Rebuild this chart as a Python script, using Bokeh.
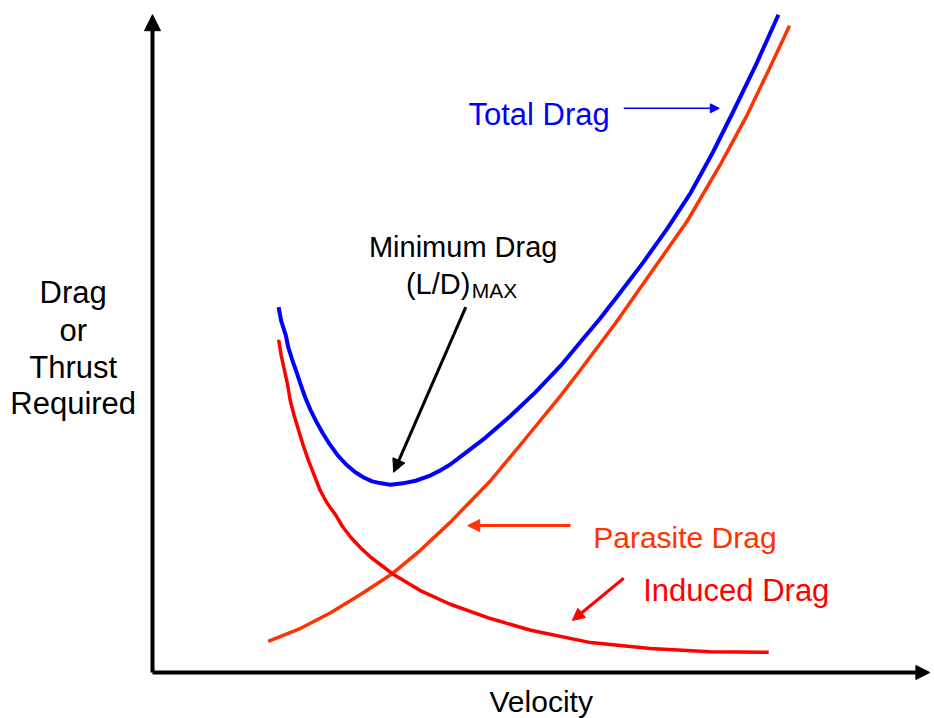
from bokeh.plotting import figure
from bokeh.models import ColumnDataSource, Arrow, NormalHead, Range1d
from bokeh.core.properties import value
from bokeh.embed import file_html
from bokeh.resources import INLINE

# ---- data (velocity units, drag units) ----
total_v = [19.4, 19.8, 20.5, 20.9, 21.5, 22.2, 22.8, 23.5, 24.3, 25.2, 26.2, 27.2, 28.5, 29.8,
           31.2, 32.5, 33.8, 35.2, 36.6, 38.5, 40.5, 42.5, 44.3, 45.8, 47.4, 51.2, 55.1, 58.9,
           62.8, 65.8, 68.9, 72.0, 75.5, 79.2, 82.8, 86.2, 89.2, 92.8, 96.3]
total_d = [56.2, 54.1, 51.9, 50.0, 48.1, 46.1, 44.3, 42.3, 40.4, 38.6, 36.8, 35.2, 33.4, 32.0,
           30.8, 30.0, 29.4, 29.1, 28.9, 29.1, 29.5, 30.2, 31.1, 32.0, 33.2, 36.1, 39.5, 43.1,
           47.2, 50.8, 54.5, 58.5, 63.1, 68.3, 73.8, 80.0, 86.0, 93.4, 101.2]

induced_v = [19.4, 19.8, 20.3, 20.8, 21.2, 21.8, 22.5, 23.2, 24.0, 24.9, 25.8, 26.9, 28.2,
             29.2, 30.5, 32.0, 33.5, 35.2, 36.9, 41.2, 45.8, 52.0, 58.2, 67.4, 76.6, 85.8, 94.8]
induced_d = [51.2, 48.8, 46.5, 44.2, 41.8, 39.5, 37.2, 34.9, 32.6, 30.3, 28.0, 26.0, 24.2,
             22.5, 20.8, 19.2, 17.8, 16.5, 15.2, 12.6, 10.5, 8.3, 6.5, 4.6, 3.7, 3.2, 3.1]

parasite_v = [17.8, 22.8, 27.4, 32.0, 36.9, 41.2, 45.8, 52.0, 57.4, 62.8, 65.8, 71.2, 76.2,
              82.3, 87.4, 91.5, 94.9, 98.0]
parasite_d = [4.8, 6.8, 9.2, 12.0, 15.2, 18.8, 23.1, 29.5, 36.0, 42.6, 46.5, 53.7, 60.8,
              69.5, 78.2, 85.8, 92.9, 99.5]

y_label_lines = ["Drag", "or", "Thrust", "Required"]

BLUE = "#0000FF"
RED = "#FF0000"
ORANGE = "#FF3300"
FONT = value("Liberation Sans")

p = figure(width=934, height=718, output_backend="svg", toolbar_location=None,
           x_range=Range1d(-23.385, 120.31), y_range=Range1d(-7.077, 103.385),
           min_border=0, x_axis_location=None, y_axis_location=None)
p.outline_line_color = None
p.xgrid.visible = False
p.ygrid.visible = False
p.background_fill_color = "white"
p.border_fill_color = "white"

# curves
p.line(parasite_v, parasite_d, line_color=ORANGE, line_width=3.5, line_join="round")
p.line(induced_v, induced_d, line_color=RED, line_width=3.5, line_join="round")
p.line(total_v, total_d, line_color=BLUE, line_width=4, line_join="round")

# axes as arrows
p.add_layout(Arrow(x_start=0, y_start=0, x_end=119.6, y_end=0, line_width=4, line_color="black",
                   end=NormalHead(size=14, fill_color="black", line_color="black", line_width=1)))
p.add_layout(Arrow(x_start=0, y_start=0, x_end=0, y_end=101.2, line_width=4, line_color="black",
                   end=NormalHead(size=16, fill_color="black", line_color="black", line_width=1)))

# annotation arrows
p.add_layout(Arrow(x_start=48.2, y_start=56.2, x_end=37.1, y_end=30.8, line_width=3, line_color="black",
                   end=NormalHead(size=13, fill_color="black", line_color="black", line_width=1)))
p.add_layout(Arrow(x_start=72.5, y_start=86.8, x_end=87.2, y_end=86.8, line_width=1.5, line_color=BLUE,
                   end=NormalHead(size=9, fill_color=BLUE, line_color=BLUE, line_width=1)))
p.add_layout(Arrow(x_start=64.3, y_start=22.6, x_end=48.5, y_end=22.6, line_width=3, line_color=ORANGE,
                   end=NormalHead(size=12, fill_color=ORANGE, line_color=ORANGE, line_width=1)))
p.add_layout(Arrow(x_start=72.5, y_start=14.5, x_end=64.6, y_end=8.0, line_width=3, line_color=RED,
                   end=NormalHead(size=12, fill_color=RED, line_color=RED, line_width=1)))

# y label (multi-line)
ylab = ColumnDataSource(dict(x=[-12.2] * 4, y=[58.5, 52.6, 47.0, 41.4], t=y_label_lines))
p.text(x="x", y="y", text="t", source=ylab, text_font=FONT, text_font_size="31px",
       text_align="center", text_baseline="alphabetic", text_color="black")

# other labels
def lab(x, y, t, size, color, align="left"):
    p.text(x=[x], y=[y], text=[t], text_font=FONT, text_font_size=size, text_color=color,
           text_align=align, text_baseline="alphabetic")

lab(59.8, -4.4, "Velocity", "30px", "black", "center")
lab(48.6, 85.8, "Total Drag", "31px", BLUE)
lab(67.8, 20.8, "Parasite Drag", "30px", ORANGE)
lab(75.5, 12.6, "Induced Drag", "31px", RED)
lab(47.8, 65.5, "Minimum Drag", "29px", "black", "center")
lab(48.9, 59.8, "(L/D)", "29px", "black", "right")
lab(49.1, 58.7, "MAX", "21px", "black", "left")

open("out.html", "w").write(file_html(p, INLINE))
